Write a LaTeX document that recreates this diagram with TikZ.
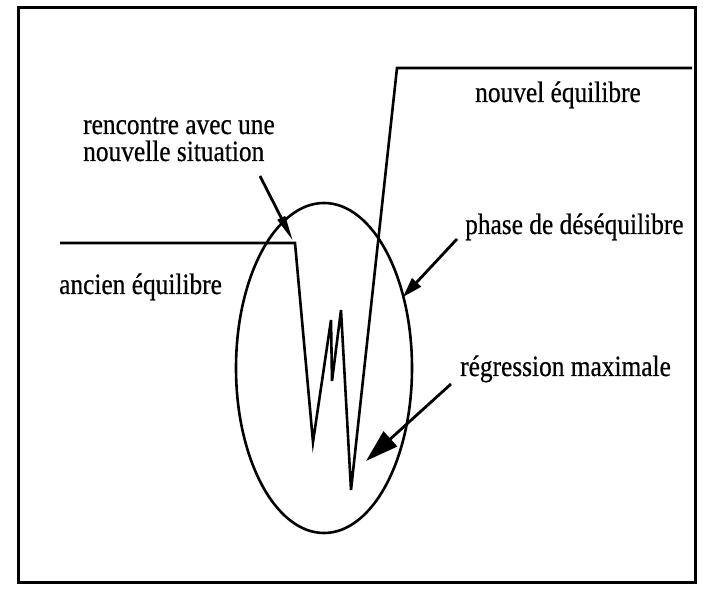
\documentclass[tikz,border=0pt]{standalone}
\usepackage{fontspec}
\newfontfamily\lblfont[FakeStretch=0.86,FakeBold=0.5]{Liberation Serif}
\usetikzlibrary{arrows.meta,shapes.geometric}
\begin{document}
\begin{tikzpicture}[x=1pt,y=-1pt,
  lbl/.style={font=\lblfont\fontsize{29.5}{30}\selectfont, inner sep=0pt, anchor=base west},
  curve/.style={line width=2.6pt, line join=miter},
  frame/.style={line width=3pt},
  ptr/.style={line width=2.8pt},
]
\useasboundingbox (0,0) rectangle (705,593);
\draw[frame] (18,8) rectangle (695,583);
\node[ellipse, draw, line width=2.6pt, minimum width=176pt, minimum height=330pt, inner sep=0pt] (ell) at (324,368) {};
\coordinate (p0) at (60,243);
\coordinate (corner) at (295,243);
\coordinate (v1) at (313,442);
\coordinate (t1) at (331,320);
\coordinate (n1) at (332,381);
\coordinate (t2) at (341,310);
\coordinate (deep) at (351,490);
\coordinate (top) at (397,68);
\coordinate (p8) at (692,68);
\draw[curve] (p0) -- (corner) -- (v1) -- (t1) -- (n1) -- (t2) -- (deep) -- (top) -- (p8);
% labels
\node[lbl] (rencA) at (83,134) {rencontre avec une};
\node[lbl] (rencB) at (83,161) {nouvelle situation};
\node[lbl] (nouv) at (475,102) {nouvel équilibre};
\node[lbl] (phase) at (465,234) {phase de déséquilibre};
\node[lbl] (anc) at (59,294) {ancien équilibre};
\node[lbl] (regr) at (460,376) {régression maximale};
% arrows
\coordinate (a1s) at (260,176);
\coordinate (a1e) at (293,241);
\coordinate (a2s) at (457,239);
\coordinate (a2e) at (403,297);
\coordinate (a3s) at (451,384);
\coordinate (a3e) at (366,461);
\draw[ptr, -{Triangle[length=26pt,width=8pt]}] (a1s) -- (a1e);
\draw[ptr, -{Triangle[length=20pt,width=12pt]}] (a2s) -- (a2e);
\draw[ptr, -{Triangle[length=33pt,width=20pt]}] (a3s) -- (a3e);
\end{tikzpicture}
\end{document}
